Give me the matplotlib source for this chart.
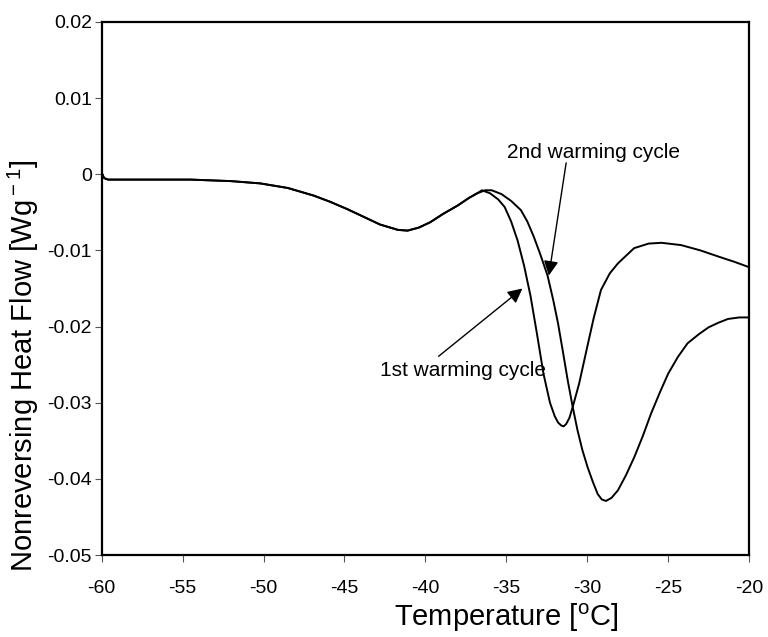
import matplotlib
matplotlib.use("Agg")
import matplotlib.pyplot as plt

plt.rcParams['font.family'] = ['Liberation Sans', 'DejaVu Sans']
plt.rcParams['mathtext.fontset'] = 'custom'
plt.rcParams['mathtext.rm'] = 'Liberation Sans'

# Common part of both warming cycles (before the peak near -37 C)
common_T = [-60.0, -59.85, -59.6, -57.0, -54.5, -52.0, -50.2, -48.5, -46.9, -45.9,
            -44.8, -43.8, -42.8, -41.7, -41.1, -40.4, -39.7, -38.9, -38.0, -37.3, -36.8]
common_V = [0.0002, -0.0005, -0.0007, -0.0007, -0.0007, -0.0009, -0.0012, -0.0018, -0.0028, -0.0036,
            -0.0046, -0.0056, -0.0066, -0.0073, -0.0074, -0.0070, -0.0063, -0.0052, -0.0041, -0.0031, -0.0025]

# 1st warming cycle (after split)
c1_T = [-36.5, -36.0, -35.5, -35.1, -34.7, -34.3, -33.9, -33.5, -33.1, -32.7, -32.3, -32.0,
        -31.8, -31.6, -31.45, -31.3, -31.1, -30.9, -30.5, -30.0, -29.6, -29.15, -28.6, -28.1,
        -27.1, -26.2, -25.4, -24.2, -23.0, -21.9, -20.9, -20.0]
c1_V = [-0.0021, -0.0025, -0.0033, -0.0043, -0.0062, -0.0087, -0.0120, -0.0160, -0.0210, -0.0262,
        -0.0300, -0.0318, -0.0326, -0.0330, -0.0331, -0.0328, -0.0320, -0.0306, -0.0275, -0.0227,
        -0.0189, -0.0152, -0.0130, -0.0117, -0.0097, -0.0091, -0.0090, -0.0093, -0.0100, -0.0108,
        -0.0115, -0.0122]

# 2nd warming cycle (after split)
c2_T = [-36.3, -35.9, -35.3, -34.7, -34.1, -33.7, -33.3, -32.9, -32.45, -32.1, -31.8, -31.5,
        -31.2, -30.9, -30.6, -30.3, -29.97, -29.65, -29.35, -29.1, -28.84, -28.5, -28.1, -27.6,
        -27.08, -26.55, -26.05, -25.5, -25.0, -24.4, -23.8, -23.1, -22.5, -21.9, -21.3, -20.6, -20.0]
c2_V = [-0.0021, -0.0021, -0.0026, -0.0035, -0.0047, -0.0062, -0.0082, -0.0105, -0.0133, -0.0165,
        -0.0196, -0.0233, -0.0271, -0.0305, -0.0336, -0.0362, -0.0385, -0.0404, -0.0420, -0.0427,
        -0.0429, -0.0425, -0.0415, -0.0395, -0.0371, -0.0343, -0.0314, -0.0286, -0.0262, -0.0240,
        -0.0222, -0.0210, -0.0201, -0.0195, -0.0190, -0.0188, -0.0188]

x_ticks = [-60, -55, -50, -45, -40, -35, -30, -25, -20]
y_ticks = [-0.05, -0.04, -0.03, -0.02, -0.01, 0.0, 0.01, 0.02]
y_tick_labels = ['-0.05', '-0.04', '-0.03', '-0.02', '-0.01', '0', '0.01', '0.02']

fig = plt.figure(figsize=(7.68, 6.37), dpi=100)
ax = fig.add_axes([0.1324, 0.1287, 0.8429, 0.8368])

ax.plot(common_T + c1_T, common_V + c1_V, color='black', lw=1.4, solid_joinstyle='round')
ax.plot(common_T + c2_T, common_V + c2_V, color='black', lw=1.4, solid_joinstyle='round')

ax.set_xlim(-60, -20)
ax.set_ylim(-0.05, 0.02)
ax.set_xticks(x_ticks)
ax.set_xticklabels([str(t) for t in x_ticks])
ax.set_yticks(y_ticks)
ax.set_yticklabels(y_tick_labels)
ax.tick_params(direction='out', length=5, width=0.8, color='#555555', labelsize=14)
ax.tick_params(axis='x', pad=13)
ax.tick_params(axis='y', pad=2)
for s in ax.spines.values():
    s.set_linewidth(1.6)
    s.set_color('black')

ax.set_xlabel('Temperature [$^{\\rm o}$C]', fontsize=21)
ax.set_ylabel('Nonreversing Heat Flow [Wg$^{\\rm -1}$]', fontsize=21)
ax.xaxis.set_label_coords(0.625, -0.088)
ax.yaxis.set_label_coords(-0.094, 0.355)

arrow = dict(arrowstyle='-|>', color='black', lw=1.0, mutation_scale=22, shrinkA=0, shrinkB=0)
ax.text(-34.97, 0.0028, '2nd warming cycle', fontsize=15, ha='left', va='center')
ax.annotate('', xy=(-32.37, -0.0133), xytext=(-31.3, 0.0015), arrowprops=arrow)
ax.text(-42.78, -0.0258, '1st warming cycle', fontsize=15, ha='left', va='center')
ax.annotate('', xy=(-34.0, -0.0150), xytext=(-39.18, -0.0239), arrowprops=arrow)

fig.savefig('out.png', dpi=100)
